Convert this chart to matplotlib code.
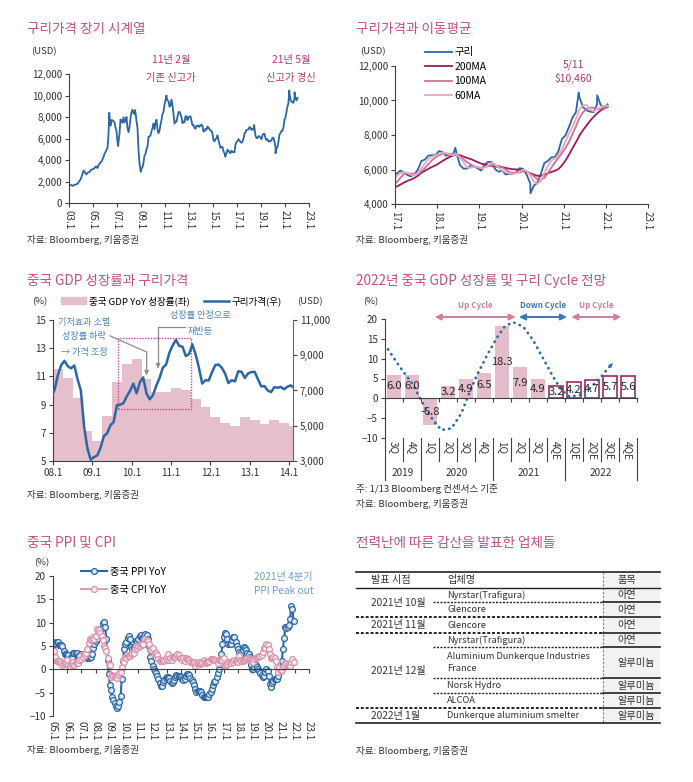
import matplotlib
matplotlib.use("Agg")
import matplotlib.pyplot as plt
from matplotlib.patches import Rectangle
from matplotlib.transforms import blended_transform_factory
import numpy as np
import pandas as pd

plt.rcParams['font.family'] = ['Noto Sans CJK KR', 'DejaVu Sans']
plt.rcParams['axes.unicode_minus'] = True

W, H = 693, 782
TITLE_C = '#c4507f'
NOTE_C = '#b5366e'
TXT = '#333333'
AXC = '#404040'
BLUE = '#2b67a5'
TICK_FS = 7.1
TITLE_FS = 9.8

# ---------------- data ----------------
# LME copper, monthly average (USD/t), Jan 2003 - Jan 2022
copper_monthly = [
    1648, 1683, 1662, 1587, 1647, 1686, 1711, 1762, 1790, 1921, 2055, 2201,  # 2003
    2423, 2737, 3002, 2940, 2732, 2686, 2809, 2840, 2899, 3008, 3122, 3138,  # 2004
    3170, 3254, 3380, 3392, 3247, 3526, 3614, 3799, 3857, 4060, 4269, 4577,  # 2005
    4734, 4982, 5102, 6387, 8046, 7196, 7711, 7695, 7602, 7500, 7029, 6675,  # 2006
    5669, 5676, 6452, 7766, 7665, 7479, 7973, 7510, 7651, 8008, 6965, 6588,  # 2007
    7061, 7888, 8439, 8685, 8382, 8260, 8414, 7634, 6991, 4926, 3717, 3072,  # 2008
    3221, 3315, 3749, 4407, 4569, 5014, 5216, 6165, 6196, 6288, 6676, 6982,  # 2009
    7386, 6848, 7463, 7745, 6838, 6499, 6735, 7284, 7709, 8292, 8470, 9147,  # 2010
    9556, 9868, 9530, 9483, 8960, 9067, 9619, 9041, 8300, 7394, 7581, 7566,  # 2011
    8040, 8441, 8471, 8289, 7955, 7423, 7584, 7515, 8088, 8062, 7711, 7966,  # 2012
    8047, 8061, 7646, 7234, 7249, 7000, 6907, 7192, 7159, 7203, 7071, 7215,  # 2013
    7291, 7149, 6650, 6674, 6891, 6821, 7113, 7002, 6872, 6737, 6713, 6446,  # 2014
    5831, 5729, 5940, 6042, 6295, 5833, 5457, 5127, 5217, 5216, 4800, 4639,  # 2015
    4472, 4599, 4954, 4873, 4695, 4642, 4864, 4750, 4722, 4731, 5450, 5660,  # 2016
    5755, 5941, 5820, 5684, 5600, 5720, 5985, 6485, 6577, 6808, 6826, 6834,  # 2017
    7066, 7007, 6799, 6873, 6825, 6952, 6248, 6051, 6050, 6220, 6194, 6073,  # 2018
    5939, 6300, 6439, 6438, 6017, 5868, 5941, 5709, 5761, 5744, 5857, 6077,  # 2019
    6031, 5687, 5183, 5058, 5239, 5742, 6369, 6497, 6705, 6712, 7064, 7772,  # 2020
    7970, 8460, 8998, 9336, 10184, 9613, 9433, 9357, 9324, 9778, 9765, 9550,  # 2021
    9776,                                                                    # 2022
]
copper_start = "2003-01"
# intra-month highs / lows visible on the daily line
copper_spike_dates = ["2006-05-11", "2007-02-06", "2008-07-02", "2008-12-24", "2011-02-14",
                      "2016-01-15", "2018-06-07", "2020-03-19", "2021-05-11", "2021-10-18"]
copper_spike_values = [8400, 5300, 8650, 2900, 10000, 4310, 7263, 4626, 10460, 10300]

# China GDP YoY by quarter, 2008Q1 - 2014Q1
gdp_q_start = 2008
gdp_q_values = [11.5, 10.9, 9.5, 7.1, 6.4, 8.2, 10.6, 11.9, 12.2, 10.8, 9.9, 9.9,
                10.2, 10.0, 9.4, 8.8, 8.1, 7.7, 7.5, 8.1, 7.9, 7.6, 7.9, 7.7, 7.5]

# GDP outlook panel
outlook_labels = ["3Q", "4Q", "1Q", "2Q", "3Q", "4Q", "1Q", "2Q", "3Q", "4QE",
                  "1QE", "2QE", "3QE", "4QE"]
outlook_values = [6.0, 6.0, -6.8, 3.2, 4.9, 6.5, 18.3, 7.9, 4.9, 3.2, 4.2, 4.7, 5.7, 5.6]
n_actual = 9
outlook_years = ["2019", "2020", "2021", "2022"]
outlook_year_counts = [2, 4, 4, 4]
cycle_x = [-0.33, 0.31, 1.06, 1.6, 2.17, 2.63, 3.19, 3.74, 4.1, 4.57, 5.13, 5.69, 6.15,
           6.61, 7.17, 7.72, 8.28, 8.83, 9.3, 9.76, 10.3, 10.87, 11.43, 11.98]
cycle_y = [12.35, 8.0, 3.4, -1.3, -5.5, -8.0, -7.6, -3.8, 0.4, 5.5, 10.5, 15.1, 18.1,
           19.2, 18.1, 14.7, 10.1, 5.5, 2.1, 0.4, 0.8, 2.5, 5.0, 8.0]
cycle_arrow_tip = (12.26, 9.4)
cycle_names = ["Up Cycle", "Down Cycle", "Up Cycle"]
cycle_spans = [(2.26, 6.76), (6.94, 9.61), (9.85, 12.63)]
cycle_colors = ['#d27c9f', '#3a78b5', '#d27c9f']

# China PPI / CPI YoY, monthly Jan 2005 - Dec 2021
ppi_yoy = [
    5.8, 5.4, 5.6, 5.8, 5.9, 5.2, 5.2, 5.3, 4.9, 4.0, 3.2, 3.2,
    3.0, 3.0, 2.5, 1.9, 2.4, 3.5, 3.6, 3.4, 3.5, 2.9, 2.8, 3.1,
    3.3, 2.6, 2.7, 2.9, 2.8, 2.5, 2.4, 2.6, 2.7, 3.2, 4.6, 5.4,
    6.1, 6.6, 8.0, 8.1, 8.2, 8.8, 10.0, 10.1, 9.1, 6.6, 2.0, -1.1,
    -3.3, -4.5, -6.0, -6.6, -7.2, -7.8, -8.2, -7.9, -7.0, -5.8, -2.1, 1.7,
    4.3, 5.4, 5.9, 6.8, 7.1, 6.4, 4.8, 4.3, 4.3, 5.0, 6.1, 5.9,
    6.6, 7.2, 7.3, 6.8, 6.8, 7.1, 7.5, 7.3, 6.5, 5.0, 2.7, 1.7,
    0.7, 0.0, -0.3, -0.7, -1.4, -2.1, -2.9, -3.5, -3.6, -2.8, -2.2, -1.9,
    -1.6, -1.6, -1.9, -2.6, -2.9, -2.7, -2.3, -1.6, -1.3, -1.5, -1.4, -1.4,
    -1.6, -2.0, -2.3, -2.0, -1.4, -1.1, -0.9, -1.2, -1.8, -2.2, -2.7, -3.3,
    -4.3, -4.8, -4.6, -4.6, -4.6, -4.8, -5.4, -5.9, -5.9, -5.9, -5.9, -5.9,
    -5.3, -4.9, -4.3, -3.4, -2.8, -2.6, -1.7, -0.8, 0.1, 1.2, 3.3, 5.5,
    6.9, 7.8, 7.6, 6.4, 5.5, 5.5, 5.5, 6.3, 6.9, 6.9, 5.8, 4.9,
    4.3, 3.7, 3.1, 3.4, 4.1, 4.7, 4.6, 4.1, 3.6, 3.3, 2.7, 0.9,
    0.1, 0.1, 0.4, 0.9, 0.6, 0.0, -0.3, -0.8, -1.2, -1.6, -1.4, -0.5,
    0.1, -0.4, -1.5, -3.1, -3.7, -3.0, -2.4, -2.0, -2.1, -2.1, -1.5, -0.4,
    0.3, 1.7, 4.4, 6.8, 9.0, 8.8, 9.0, 9.5, 10.7, 13.5, 12.9, 10.3,
]
cpi_yoy = [
    1.9, 3.9, 2.7, 1.8, 1.8, 1.6, 1.8, 1.3, 0.9, 1.2, 1.3, 1.6,
    1.9, 0.9, 0.8, 1.2, 1.4, 1.5, 1.0, 1.3, 1.5, 1.4, 1.9, 2.8,
    2.2, 2.7, 3.3, 3.0, 3.4, 4.4, 5.6, 6.5, 6.2, 6.5, 6.9, 6.5,
    7.1, 8.7, 8.3, 8.5, 7.7, 7.1, 6.3, 4.9, 4.6, 4.0, 2.4, 1.2,
    1.0, -1.6, -1.2, -1.5, -1.4, -1.7, -1.8, -1.2, -0.8, -0.5, 0.6, 1.9,
    1.5, 2.7, 2.4, 2.8, 3.1, 2.9, 3.3, 3.5, 3.6, 4.4, 5.1, 4.6,
    4.9, 4.9, 5.4, 5.3, 5.5, 6.4, 6.5, 6.2, 6.1, 5.5, 4.2, 4.1,
    4.5, 3.2, 3.6, 3.4, 3.0, 2.2, 1.8, 2.0, 1.9, 1.7, 2.0, 2.5,
    2.0, 3.2, 2.1, 2.4, 2.1, 2.7, 2.7, 2.6, 3.1, 3.2, 3.0, 2.5,
    2.5, 2.0, 2.4, 1.8, 2.5, 2.3, 2.3, 2.0, 1.6, 1.6, 1.4, 1.5,
    0.8, 1.4, 1.4, 1.5, 1.2, 1.4, 1.6, 2.0, 1.6, 1.3, 1.5, 1.6,
    1.8, 2.3, 2.3, 2.3, 2.0, 1.9, 1.8, 1.3, 1.9, 2.1, 2.3, 2.1,
    2.5, 0.8, 0.9, 1.2, 1.5, 1.5, 1.4, 1.8, 1.6, 1.9, 1.7, 1.8,
    1.5, 2.9, 2.1, 1.8, 1.8, 1.9, 2.1, 2.3, 2.5, 2.5, 2.2, 1.9,
    1.7, 1.5, 2.3, 2.5, 2.7, 2.7, 2.8, 2.8, 3.0, 3.8, 4.5, 4.5,
    5.4, 5.2, 4.3, 3.3, 2.4, 2.5, 2.7, 2.4, 1.7, 0.5, -0.5, 0.2,
    -0.3, -0.2, 0.4, 0.9, 1.3, 1.1, 1.0, 0.8, 0.7, 1.5, 2.3, 1.5,
]
ppi_start = 2005

# table
tbl_header = ["발표 시점", "업체명", "품목"]
tbl_dates = ["2021년 10월", "2021년 11월", "2021년 12월", "2022년 1월"]
tbl_date_rows = [2, 1, 4, 1]
tbl_companies = ["Nyrstar(Trafigura)", "Glencore", "Glencore", "Nyrstar(Trafigura)",
                 "Aluminium Dunkerque Industries\nFrance", "Norsk Hydro", "ALCOA",
                 "Dunkerque aluminium smelter"]
tbl_items = ["아연", "아연", "아연", "아연", "알루미늄", "알루미늄", "알루미늄", "알루미늄"]

# ---------------- helpers ----------------
fig = plt.figure(figsize=(W / 100, H / 100), dpi=100)


def add_ax(l, t, r, b):
    return fig.add_axes([l / W, 1 - b / H, (r - l) / W, (b - t) / H])


def ftext(x, y, s, **kw):
    kw.setdefault('va', 'center')
    kw.setdefault('color', TXT)
    return fig.text(x / W, 1 - y / H, s, **kw)


def style(ax, right=False):
    ax.spines['top'].set_visible(False)
    ax.spines['right'].set_visible(right)
    for s in ['left', 'bottom', 'right']:
        ax.spines[s].set_color(AXC)
        ax.spines[s].set_linewidth(0.8)
    ax.tick_params(direction='out', length=3, width=0.8, color=AXC,
                   labelsize=TICK_FS, labelcolor=TXT, pad=2)
    ax.set_facecolor('none')


def figy(py):
    return 1 - py / H


months = pd.period_range(copper_start, periods=len(copper_monthly), freq='M')
cu_x = months.year + (months.month - 0.5) / 12
cu = pd.Series(copper_monthly, index=cu_x)
sp = pd.to_datetime(copper_spike_dates)
sp_x = sp.year + (sp.dayofyear - 1) / 365
cu_daily = pd.concat([cu, pd.Series(copper_spike_values, index=sp_x)]).sort_index()

# ---------------- panel 1 ----------------
ax1 = add_ax(69, 74, 309, 203)
style(ax1)
ax1.plot(cu_daily.index, cu_daily.values, color=BLUE, lw=1.3)
ax1.set_xlim(2003, 2023)
ax1.set_ylim(0, 12000)
yt = np.arange(0, 12001, 2000)
ax1.set_yticks(yt)
ax1.set_yticklabels([f"{v:,}" for v in yt])
xt = np.arange(2003, 2024, 2)
ax1.set_xticks(xt)
ax1.set_xticklabels([f"{y % 100:02d}.1" for y in xt], rotation=270)
ftext(27, 29, "구리가격 장기 시계열", fontsize=TITLE_FS, color=TITLE_C)
ftext(31, 52, "(USD)", fontsize=6.9)
for txt, x, y in [("11년 2월", 2011.5, 13300), ("기존 신고가", 2011.5, 11630),
                  ("21년 5월", 2021.5, 13300), ("신고가 경신", 2021.5, 11630)]:
    ax1.text(x, y, txt, ha='center', va='center', fontsize=7.4, color=NOTE_C, clip_on=False)
ftext(27, 240, "자료: Bloomberg, 키움증권", fontsize=6.9)

# ---------------- panel 2 ----------------
ax2 = add_ax(395, 66, 648, 204)
style(ax2)
ma200 = cu.rolling(10).mean()
ma100 = cu.rolling(5).mean()
ma60 = cu.rolling(3).mean()
sel = cu_daily[cu_daily.index > 2016.9]
l_cu, = ax2.plot(sel.index, sel.values, color=BLUE, lw=1.3)
l200, = ax2.plot(ma200[ma200.index > 2016.9], color='#a3195b', lw=1.3)
l100, = ax2.plot(ma100[ma100.index > 2016.9], color='#d0709a', lw=1.3)
l60, = ax2.plot(ma60[ma60.index > 2016.9], color='#e8a9c0', lw=1.3)
ax2.set_xlim(2017, 2023)
ax2.set_ylim(4000, 12000)
yt = np.arange(4000, 12001, 2000)
ax2.set_yticks(yt)
ax2.set_yticklabels([f"{v:,}" for v in yt])
xt = np.arange(2017, 2024)
ax2.set_xticks(xt)
ax2.set_xticklabels([f"{y % 100:02d}.1" for y in xt], rotation=270)
fig.legend([l_cu, l200, l100, l60], ["구리", "200MA", "100MA", "60MA"],
           loc='upper left', bbox_to_anchor=(425 / W, figy(47.5)), frameon=False,
           fontsize=7.5, handlelength=2.6, handletextpad=0.2, labelspacing=0.43,
           borderpad=0, borderaxespad=0)
ax2.text(2021.22, 12060, "5/11", ha='center', va='center', fontsize=7.5, color=NOTE_C, clip_on=False)
ax2.text(2021.22, 11250, "$10,460", ha='center', va='center', fontsize=7.5, color=NOTE_C, clip_on=False)
ftext(356, 29, "구리가격과 이동평균", fontsize=TITLE_FS, color=TITLE_C)
ftext(360, 52, "(USD)", fontsize=6.9)
ftext(356, 240, "자료: Bloomberg, 키움증권", fontsize=6.9)

# ---------------- panel 3 ----------------
ax3 = add_ax(53, 320, 293, 461)
style(ax3)
gx = gdp_q_start + 0.25 * np.arange(len(gdp_q_values))
ax3.bar(gx, gdp_q_values, width=0.25, align='edge', color='#e5bfcc', linewidth=0)
ax3.set_ylim(5, 15)
ax3.set_yticks(np.arange(5, 16, 2))
ax3.set_xlim(2008, 2014.1)
ax3.set_xticks(np.arange(2008, 2015))
ax3.set_xticklabels([f"{y % 100:02d}.1" for y in range(2008, 2015)])
ax3.add_patch(Rectangle((2009.645, 8.69), 2011.51 - 2009.645, 13.70 - 8.69, fill=False,
                        edgecolor='#d4458a', lw=1.0, linestyle=(0, (1, 1))))
ax3r = ax3.twinx()
style(ax3r, right=True)
ax3r.spines['left'].set_visible(False)
ax3r.spines['bottom'].set_visible(False)
ax3r.spines['right'].set_color('#666666')
sel3 = cu[(cu.index > 2007.8) & (cu.index < 2014.3)]
l3, = ax3r.plot(sel3.index, sel3.values, color=BLUE, lw=1.8)
ax3r.set_ylim(3000, 11000)
yt = np.arange(3000, 11001, 2000)
ax3r.set_yticks(yt)
ax3r.set_yticklabels([f"{v:,}" for v in yt])
ax3r.set_xlim(2008, 2014.1)
fig.legend([Rectangle((0, 0), 1, 1, color='#e5bfcc'), l3], ["중국 GDP YoY 성장률(좌)", "구리가격(우)"],
           loc='center left', bbox_to_anchor=(61 / W, figy(301)), ncol=2, frameon=False,
           fontsize=6.9, handlelength=2.6, handletextpad=0.3, columnspacing=1.5,
           borderpad=0, borderaxespad=0)
ann_c = '#5585c0'
ann_fs = 6.6
ax3r.text(2008.79, 10880, "기저효과 소멸", ha='center', va='center', fontsize=ann_fs, color=ann_c)
ax3r.text(2008.79, 10040, "성장률 하락", ha='center', va='center', fontsize=ann_fs, color=ann_c)
ax3r.text(2008.79, 9180, "→ 가격 조정", ha='center', va='center', fontsize=ann_fs, color=ann_c)
ax3r.text(2011.74, 11280, "성장률 안정으로", ha='center', va='center', fontsize=ann_fs, color=ann_c,
          clip_on=False)
ax3r.text(2011.74, 10370, "재반등", ha='center', va='center', fontsize=ann_fs, color=ann_c)
ax3.plot([2009.45, 2010.38, 2010.38], [13.87, 12.73, 11.3], color='#8c8c8c', lw=0.9)
ax3.annotate('', xy=(2010.38, 10.89), xytext=(2010.38, 11.4),
             arrowprops=dict(arrowstyle='-|>', color='#8c8c8c', lw=0.9, mutation_scale=6))
ax3.plot([2011.36, 2010.67, 2010.67], [14.5, 14.5, 11.8], color='#8c8c8c', lw=0.9)
ax3.annotate('', xy=(2010.67, 11.38), xytext=(2010.67, 11.9),
             arrowprops=dict(arrowstyle='-|>', color='#8c8c8c', lw=0.9, mutation_scale=6))
ftext(27, 281, "중국 GDP 성장률과 구리가격", fontsize=TITLE_FS, color=TITLE_C)
ftext(32, 302, "(%)", fontsize=6.9)
ftext(297, 302, "(USD)", fontsize=6.9)
ftext(27, 495, "자료: Bloomberg, 키움증권", fontsize=6.9)

# ---------------- panel 4 ----------------
ax4 = add_ax(385, 319, 637, 438)
style(ax4)
xs = np.arange(len(outlook_values))
vals = np.array(outlook_values)
ax4.bar(xs[:n_actual], vals[:n_actual], width=0.8, color='#e4bccb', linewidth=0)
ax4.bar(xs[n_actual:], vals[n_actual:], width=0.76, facecolor='white',
        edgecolor='#a02a60', linewidth=1.2)
for x, v in zip(xs, vals):
    ax4.text(x, v / 2, f"{v:.1f}", ha='center', va='center', fontsize=8, color='#262626')
ax4.plot(cycle_x, cycle_y, color='#2e6aa6', lw=2.0, linestyle=(0, (0.1, 2.0)),
         dash_capstyle='round', clip_on=False)
ax4.annotate('', xy=cycle_arrow_tip, xytext=(cycle_x[-1], cycle_y[-1]),
             arrowprops=dict(arrowstyle='-|>', color='#2e6aa6', lw=0, mutation_scale=8))
for name, (a, b), c in zip(cycle_names, cycle_spans, cycle_colors):
    ax4.annotate('', xy=(b, 20.5), xytext=(a, 20.5), annotation_clip=False,
                 arrowprops=dict(arrowstyle='<|-|>', color=c, lw=1.4, mutation_scale=9,
                                 shrinkA=0, shrinkB=0))
    ax4.text((a + b) / 2, 23.3, name, ha='center', va='center', fontsize=5.8,
             fontweight='bold', color=c, clip_on=False)
ax4.set_xlim(-0.5, len(xs) - 0.5)
ax4.set_ylim(-10, 20)
ax4.set_yticks(np.arange(-10, 21, 5))
ax4.spines['bottom'].set_position(('data', 0))
ax4.set_xticks(np.arange(-0.5, len(xs), 1))
ax4.set_xticklabels([])
trans4 = blended_transform_factory(ax4.transData, fig.transFigure)
for i, lab in enumerate(outlook_labels):
    ax4.text(i, figy(441), lab, transform=trans4, rotation=270, ha='center', va='top',
             fontsize=7.2, color=TXT)
starts = np.concatenate([[0], np.cumsum(outlook_year_counts)])
for b in np.arange(-0.5, len(xs), 1):
    major = (b + 0.5) in starts
    ax4.plot([b, b], [figy(438), figy(480 if major else 461)], transform=trans4,
             color=AXC, lw=0.8, clip_on=False)
for yr, s0, n in zip(outlook_years, starts[:-1], outlook_year_counts):
    ax4.text(s0 + (n - 1) / 2, figy(473), yr, transform=trans4, ha='center', va='center',
             fontsize=7.2, color=TXT)
ftext(356, 281, "2022년 중국 GDP 성장률 및 구리 Cycle 전망", fontsize=TITLE_FS, color=TITLE_C)
ftext(363, 302, "(%)", fontsize=6.9)
ftext(356, 489, "주: 1/13 Bloomberg 컨센서스 기준", fontsize=6.9)
ftext(356, 504, "자료: Bloomberg, 키움증권", fontsize=6.9)

# ---------------- panel 5 ----------------
ax5 = add_ax(53, 576, 309, 716)
style(ax5)
x5 = ppi_start + np.arange(len(ppi_yoy)) / 12
lp, = ax5.plot(x5, ppi_yoy, color=BLUE, lw=1.5, marker='o', ms=4.2, mfc='#dde8f3',
               mec=BLUE, mew=0.9)
lc, = ax5.plot(x5, cpi_yoy, color='#d892ab', lw=1.3, marker='o', ms=4.2, mfc='#fbeff3',
               mec='#d892ab', mew=0.9)
ax5.set_xlim(2005, 2023)
ax5.set_ylim(-10, 20)
ax5.set_yticks(np.arange(-10, 21, 5))
ax5.spines['bottom'].set_position(('data', 0))
xt = np.arange(2005, 2024)
ax5.set_xticks(xt)
ax5.set_xticklabels([])
trans5 = blended_transform_factory(ax5.transData, fig.transFigure)
for y in xt:
    ax5.text(y, figy(721), f"{y % 100:02d}.1", transform=trans5, rotation=270,
             ha='center', va='top', fontsize=TICK_FS, color=TXT)
fig.legend([lp, lc], ["중국 PPI YoY", "중국 CPI YoY"], loc='upper left',
           bbox_to_anchor=(81 / W, figy(566.5)), frameon=False, fontsize=7.3,
           handlelength=2.6, handletextpad=0.3, labelspacing=0.84, numpoints=1,
           borderpad=0, borderaxespad=0)
ax5.text(2021.2, 19.8, "2021년 4분기", ha='center', va='center', fontsize=7.3, color='#6d9fd6',
         clip_on=False)
ax5.text(2021.2, 16.8, "PPI Peak out", ha='center', va='center', fontsize=7.3, color='#6d9fd6')
ftext(27, 543, "중국 PPI 및 CPI", fontsize=TITLE_FS, color=TITLE_C)
ftext(34, 563, "(%)", fontsize=6.9)
ftext(27, 750, "자료: Bloomberg, 키움증권", fontsize=6.9)

# ---------------- panel 6 (table) ----------------
ax6 = add_ax(340, 520, 693, 782)
ax6.set_xlim(340, 693)
ax6.set_ylim(782, 520)
ax6.axis('off')
t_left, t_mid, t_sep, t_right = 356, 433, 603, 660
row_heights = [14, 15, 16, 14, 31, 15, 15, 15]
edges = np.cumsum([572, 16] + row_heights)
ax6.add_patch(Rectangle((t_sep, edges[0]), t_right - t_sep, edges[-1] - edges[0],
                        facecolor='#f2f2f2', edgecolor='none'))
ax6.plot([t_sep, t_sep], [edges[0], edges[-1]], color='#808080', lw=0.8, linestyle=(0, (2, 1.5)))
ax6.plot([t_left, t_right], [edges[0], edges[0]], color='#222222', lw=1.2)
ax6.plot([t_left, t_right], [edges[1], edges[1]], color='#222222', lw=1.0)
group_ends = np.cumsum(tbl_date_rows)
for i in range(len(row_heights)):
    yb = edges[i + 2]
    if i == len(row_heights) - 1:
        ax6.plot([t_left, t_right], [yb, yb], color='#222222', lw=1.2)
        continue
    if (i + 1) in group_ends:
        ax6.plot([t_left, t_sep], [yb, yb], color='#222222', lw=1.4, linestyle=(0, (1.5, 1)))
    else:
        ax6.plot([t_mid, t_sep], [yb, yb], color='#222222', lw=1.0, linestyle=(0, (1.5, 1)))
    ax6.plot([t_sep, t_right], [yb, yb], color='#222222', lw=1.2)
hy = (edges[0] + edges[1]) / 2
for txt, x in zip(tbl_header, [371, 447, 617]):
    ax6.text(x, hy, txt, ha='left', va='center', fontsize=7.3, color=TXT)
for i, (c, it) in enumerate(zip(tbl_companies, tbl_items)):
    yc = (edges[i + 1] + edges[i + 2]) / 2
    ax6.text(447, yc, c, ha='left', va='center', fontsize=6.7, color=TXT, linespacing=1.55)
    ax6.text(617, yc, it, ha='left', va='center', fontsize=7.3, color=TXT)
gstart = np.concatenate([[0], group_ends[:-1]])
for d, s0, n in zip(tbl_dates, gstart, tbl_date_rows):
    yc = (edges[s0 + 1] + edges[s0 + n + 1]) / 2
    ax6.text(371, yc, d, ha='left', va='center', fontsize=7.3, color=TXT)
ftext(356, 543, "전력난에 따른 감산을 발표한 업체들", fontsize=TITLE_FS, color=TITLE_C)
ftext(356, 751, "자료: Bloomberg, 키움증권", fontsize=6.9)

fig.savefig("out.png", dpi=100)
